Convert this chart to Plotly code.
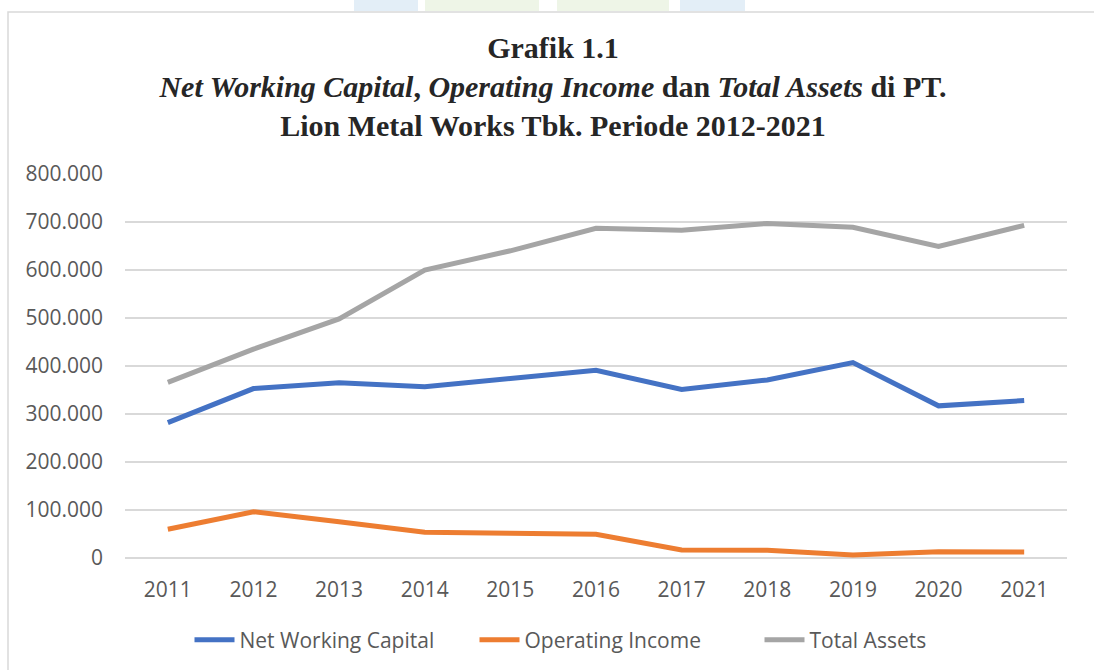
import plotly.graph_objects as go

years = ["2011", "2012", "2013", "2014", "2015", "2016", "2017", "2018", "2019", "2020", "2021"]
net_working_capital = [282000, 353000, 365000, 357000, 374000, 391000, 351000, 371000, 407000, 317000, 328000]
operating_income = [60000, 96500, 75500, 53500, 51500, 49500, 16500, 16000, 6500, 13000, 12500]
total_assets = [366000, 435000, 498000, 600000, 640000, 687000, 683000, 697000, 689000, 649000, 693000]

series = [
    ("Net Working Capital", net_working_capital, "#4472C4"),
    ("Operating Income", operating_income, "#ED7D31"),
    ("Total Assets", total_assets, "#A5A5A5"),
]

fig = go.Figure()
for name, vals, color in series:
    fig.add_trace(go.Scatter(x=years, y=vals, name=name, mode="lines",
                             line=dict(color=color, width=5)))

W, H = 1094, 670
L, R, T, B = 125, 27, 174, 112
PW = W - L - R
PH = H - T - B


def px_x(px):
    return (px - L) / PW


def px_y(py):
    return (H - B - py) / PH


title_text = ("<b>Grafik 1.1</b><br><b><i>Net Working Capital</i>, <i>Operating Income</i> dan "
              "<i>Total Assets</i> di PT.</b><br><b>Lion Metal Works Tbk. Periode 2012-2021</b>")

fig.update_layout(
    width=W, height=H,
    margin=dict(l=L, r=R, t=T, b=B, autoexpand=False),
    paper_bgcolor="white", plot_bgcolor="white",
    separators=",.",
    title=dict(text=title_text, x=553 / W, xanchor="center", xref="container",
               y=1 - 58 / H, yanchor="top", yref="container",
               font=dict(family="Times New Roman, Liberation Serif, serif", size=30, color="#262626")),
    font=dict(family="Open Sans", size=21, color="#595959"),
    xaxis=dict(type="category", range=[-0.5, 10.5], showgrid=False, showline=False, ticks="",
               tickfont=dict(size=21, color="#595959"), ticklabelstandoff=17, tickangle=0),
    yaxis=dict(range=[0, 800000], dtick=100000, tickformat=",d", showgrid=True,
               gridcolor="#D9D9D9", gridwidth=1.5, zeroline=True, zerolinecolor="#D9D9D9",
               zerolinewidth=1.5, showline=False, ticks="",
               tickfont=dict(size=21, color="#595959"), ticklabelstandoff=21),
    legend=dict(orientation="h", x=px_x(617), xanchor="center", xref="paper",
                y=px_y(640), yanchor="middle",
                font=dict(size=21, color="#595959"), itemwidth=40, traceorder="normal",
                entrywidth=230, entrywidthmode="pixels"),
    showlegend=True,
)

# faint watermark fragments above the chart frame
for x0, x1, col in [(354, 418, "#E3EEF7"), (425, 539, "#EEF5E7"),
                    (557, 669, "#EEF5E7"), (680, 745, "#E3EEF7")]:
    fig.add_shape(type="rect", xref="paper", yref="paper",
                  x0=px_x(x0), x1=px_x(x1), y0=px_y(11), y1=px_y(-2),
                  line=dict(width=0), fillcolor=col, layer="below")

# outer chart border
fig.add_shape(type="rect", xref="paper", yref="paper",
              x0=px_x(8), x1=px_x(1110), y0=px_y(680), y1=px_y(12),
              line=dict(color="#D9D9D9", width=1.5), fillcolor="white", layer="below")

fig.write_html("out.html")
